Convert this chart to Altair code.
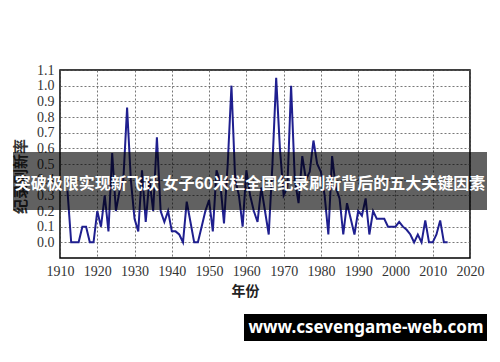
import altair as alt
import pandas as pd

years = list(range(1912, 2015))
rates = [
    0.33, 0.0, 0.0, 0.0, 0.1, 0.1, 0.0, 0.0,              # 1912-1919
    0.2, 0.1, 0.3, 0.07, 0.57, 0.2, 0.33, 0.4, 0.86, 0.4,  # 1920-1929
    0.15, 0.07, 0.46, 0.13, 0.4, 0.2, 0.67, 0.2, 0.13, 0.2,  # 1930-1939
    0.07, 0.07, 0.05, 0.0, 0.26, 0.13, 0.0, 0.0, 0.1, 0.2,   # 1940-1949
    0.27, 0.07, 0.46, 0.38, 0.12, 0.5, 1.0, 0.4, 0.3, 0.1,   # 1950-1959
    0.46, 0.3, 0.2, 0.13, 0.35, 0.2, 0.05, 0.5, 1.05, 0.6,   # 1960-1969
    0.3, 0.35, 1.0, 0.4, 0.25, 0.55, 0.4, 0.45, 0.65, 0.5,   # 1970-1979
    0.45, 0.3, 0.05, 0.55, 0.35, 0.28, 0.05, 0.25, 0.15, 0.05,  # 1980-1989
    0.2, 0.17, 0.28, 0.05, 0.2, 0.15, 0.15, 0.15, 0.1, 0.1,  # 1990-1999
    0.1, 0.13, 0.1, 0.08, 0.05, 0.0, 0.05, 0.0, 0.14, 0.0,   # 2000-2009
    0.0, 0.05, 0.14, 0.0, 0.0,                               # 2010-2014
]

x_ticks = list(range(1910, 2021, 10))
y_ticks = [round(i * 0.1, 1) for i in range(12)]
x_title = "年份"
y_title = "纪录刷新率"
banner_text = "突破极限实现新飞跃 女子60米栏全国纪录刷新背后的五大关键因素"
watermark_text = "www.csevengame-web.com"

df = pd.DataFrame({"year": years, "rate": rates})

line = alt.Chart(df).mark_line(color="#1f1f8f", strokeWidth=2).encode(
    x=alt.X(
        "year:Q",
        scale=alt.Scale(domain=[1910, 2020], nice=False, zero=False),
        axis=alt.Axis(
            values=x_ticks, format="d", title=x_title, labelOverlap=False,
            labelFlush=False,
            titleX=185, titleY=33, titleAlign="center", titleBaseline="middle",
            titleFont="Noto Sans CJK SC", titleFontSize=14, titleFontWeight="bold",
            titleColor="#222", labelPadding=6,
        ),
    ),
    y=alt.Y(
        "rate:Q",
        scale=alt.Scale(domain=[-0.1, 1.1], nice=False, zero=False),
        axis=alt.Axis(
            values=y_ticks, format=".1f", title=y_title, labelOverlap=False,
            labelFlush=False,
            titleX=-40, titleY=106, titleAngle=270, titleAlign="center",
            titleBaseline="middle",
            titleFont="Noto Sans CJK SC", titleFontSize=15, titleFontWeight="bold",
            titleColor="#333", labelPadding=6,
        ),
    ),
)

one = pd.DataFrame({"t": [banner_text]})
wm = pd.DataFrame({"t": [watermark_text]})

banner = alt.Chart(one).mark_rect(color="black", opacity=0.62).encode(
    x=alt.value(-47), x2=alt.value(427), y=alt.value(82), y2=alt.value(140)
)
banner_label = alt.Chart(one).mark_text(
    font="Noto Sans CJK SC", fontSize=16, fontWeight="bold", color="white",
    align="center", baseline="middle",
).encode(x=alt.value(190), y=alt.value(114), text="t:N")

wm_box = alt.Chart(wm).mark_rect(color="black").encode(
    x=alt.value(184), x2=alt.value(427), y=alt.value(244), y2=alt.value(271)
)
wm_label = alt.Chart(wm).mark_text(
    font="Noto Sans", fontSize=17, fontWeight="bold", color="white",
    align="center", baseline="middle",
).encode(x=alt.value(306), y=alt.value(258), text="t:N")

chart = alt.layer(line, banner, banner_label, wm_box, wm_label).properties(
    width=410, height=188,
    padding={"left": 52, "top": 62, "right": 22, "bottom": 96},
    autosize=alt.AutoSizeParams(type="none"),
    background="white",
).configure_view(
    stroke="black", strokeWidth=1.5
).configure_axis(
    grid=True, gridColor="#555", gridDash=[2, 2], gridWidth=0.8,
    domain=False, ticks=False,
    labelFont="Liberation Serif", labelFontSize=14, labelColor="#333",
)

chart.save("out.html", embed_options={"renderer": "svg", "actions": False})
